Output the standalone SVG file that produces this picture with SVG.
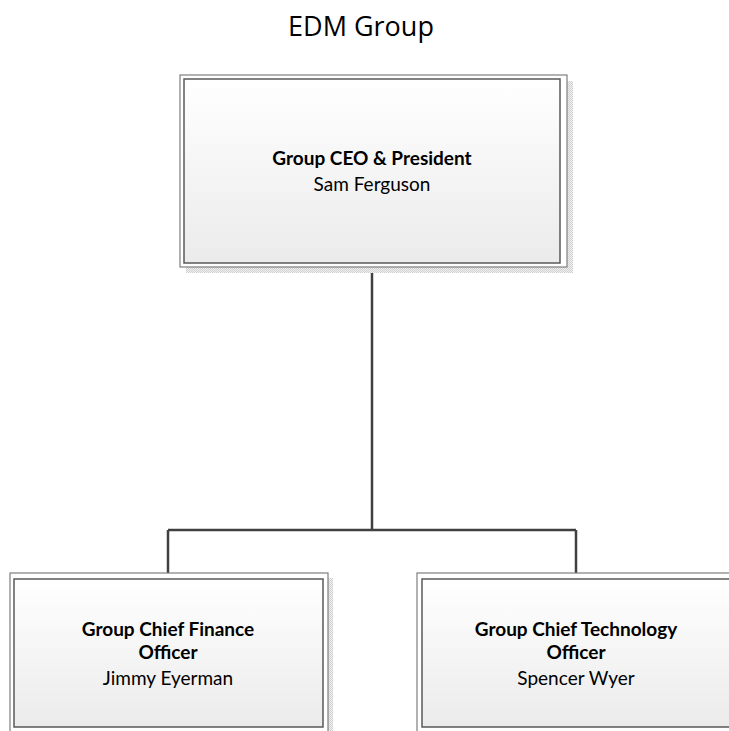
<svg xmlns="http://www.w3.org/2000/svg" width="729" height="731" viewBox="0 0 729 731">
  <defs>
    <linearGradient id="boxfill" x1="0" y1="0" x2="0" y2="1">
      <stop offset="0" stop-color="#ffffff"/>
      <stop offset="1" stop-color="#ebebeb"/>
    </linearGradient>
    <pattern id="stipple" width="2" height="2" patternUnits="userSpaceOnUse">
      <rect width="2" height="2" fill="#f2f2f2"/>
      <rect width="1" height="1" fill="#cfcfcf"/>
      <rect x="1" y="1" width="1" height="1" fill="#cfcfcf"/>
    </pattern>
  </defs>
  <style>
    .title { font-family: "Open Sans", "DejaVu Sans", sans-serif; font-size: 27px; fill: #000; }
    .shadow { fill: url(#stipple); }
    .outer { fill: #ffffff; stroke: #7f7f7f; stroke-width: 1.2; }
    .inner { fill: url(#boxfill); stroke: #595959; stroke-width: 1.5; }
    .role { font-family: Lato, "Liberation Sans", sans-serif; font-size: 19px; font-weight: bold; fill: #000; }
    .name { font-family: Lato, "Liberation Sans", sans-serif; font-size: 19px; fill: #000; }
    .conn { fill: none; stroke: #404040; stroke-width: 2.5; }
  </style>
  <rect width="729" height="731" fill="#ffffff"/>
  <text class="title" x="361" y="36" text-anchor="middle">EDM Group</text>

  <g id="connectors">
    <path class="conn" d="M372,267 V530 M168,530 H576 M168,530 V573 M576,530 V573"/>
  </g>

  <g id="ceo">
    <rect class="shadow" x="186" y="81" width="387" height="192"/>
    <rect class="outer" x="180" y="75" width="387" height="192"/>
    <rect class="inner" x="184" y="79" width="376" height="184"/>
    <text class="role" x="372" y="165" text-anchor="middle">Group CEO &amp; President</text>
    <text class="name" x="372" y="191" text-anchor="middle">Sam Ferguson</text>
  </g>

  <g id="cfo">
    <rect class="shadow" x="15" y="578" width="318" height="170"/>
    <rect class="outer" x="10" y="573" width="318" height="170"/>
    <rect class="inner" x="14" y="579" width="309" height="148"/>
    <text class="role" x="168" y="636" text-anchor="middle">Group Chief Finance</text>
    <text class="role" x="168" y="659" text-anchor="middle">Officer</text>
    <text class="name" x="168" y="685" text-anchor="middle">Jimmy Eyerman</text>
  </g>

  <g id="cto">
    <rect class="shadow" x="422" y="578" width="318" height="170"/>
    <rect class="outer" x="417" y="573" width="318" height="170"/>
    <rect class="inner" x="422" y="579" width="309" height="148"/>
    <text class="role" x="576" y="636" text-anchor="middle">Group Chief Technology</text>
    <text class="role" x="576" y="659" text-anchor="middle">Officer</text>
    <text class="name" x="576" y="685" text-anchor="middle">Spencer Wyer</text>
  </g>
</svg>
